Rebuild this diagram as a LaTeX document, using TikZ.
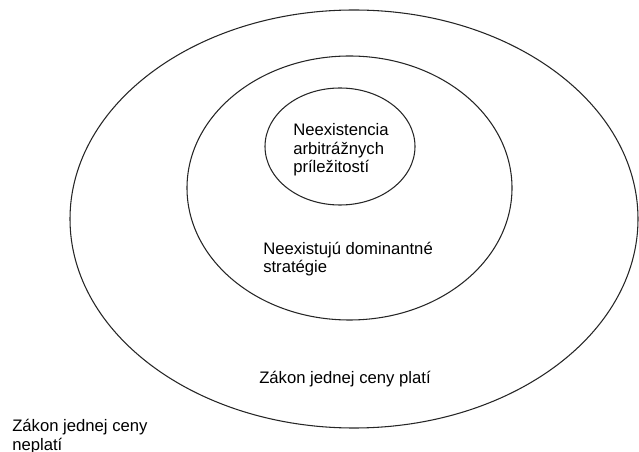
\documentclass[tikz,border=0pt]{standalone}
\usepackage{fontspec}
\setmainfont{Liberation Sans}

\begin{document}
\begin{tikzpicture}[x=0.75pt, y=-0.75pt,
        ring/.style={line width=0.8pt, black!85},
        lbl/.style={anchor=base west, inner sep=0pt, align=left,
            font=\fontsize{12.5}{14}\selectfont}]
        % Keep the page at the size of the reference (pixels, y downwards)
        \useasboundingbox (0,0) rectangle (639,452);

        % Outer ellipse: the law of one price holds
        \draw[ring] (354,219) ellipse [x radius=284, y radius=209];
        % Middle ellipse: no dominant strategies
        \draw[ring] (349.5,188) ellipse [x radius=162.5, y radius=132];
        % Inner ellipse: no arbitrage opportunities
        \draw[ring] (340,146.5) ellipse [x radius=75, y radius=58.5];

        % Labels inside the ellipses (base = last line)
        \node[lbl] (arbitraz) at (293,173) {Neexistencia\\arbitrážnych\\príležitostí};
        \node[lbl] (strategie) at (263,273) {Neexistujú dominantné\\stratégie};
        \node[lbl] (plati) at (259,383) {Zákon jednej ceny platí};

        % Label outside everything
        \node[lbl] (neplati) at (12,450) {Zákon jednej ceny\\neplatí};
    \end{tikzpicture}
\end{document}
